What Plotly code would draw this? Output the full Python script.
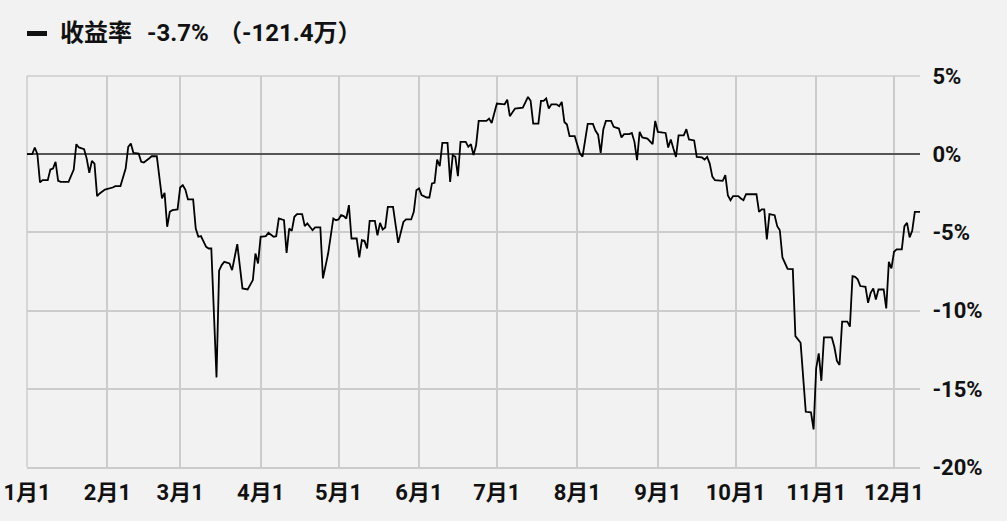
import pandas as pd
import plotly.graph_objects as go

# ---- data ----
start_date = "2023-01-01"
day_offsets = [
    0, 2, 3, 4, 5, 6, 8, 9, 10, 11, 12, 13, 16, 18, 19, 20, 22, 23, 24, 25,
    26, 27, 28, 30, 33, 34, 36, 38, 39, 40, 41, 43, 44, 45, 47, 48, 50, 51, 52, 53,
    54, 55, 56, 58, 59, 60, 61, 62, 64, 65, 66, 67, 69, 70, 71, 73, 74, 75, 76, 78,
    79, 81, 83, 85, 87, 88, 89, 90, 92, 93, 95, 96, 97, 99, 100, 101, 102, 103, 104, 106,
    107, 108, 110, 111, 113, 114, 116, 118, 119, 120, 121, 122, 123, 124, 125, 127, 128, 129, 130, 131,
    132, 134, 135, 136, 137, 138, 139, 141, 143, 145, 146, 148, 149, 150, 151, 152, 154, 155, 156, 157,
    158, 159, 160, 162, 163, 164, 165, 166, 167, 169, 170, 171, 172, 173, 174, 177, 178, 179, 180, 181,
    184, 185, 186, 188, 191, 192, 193, 194, 195, 197, 198, 199, 200, 201, 202, 204, 205, 206, 207, 208,
    209, 211, 212, 213, 214, 215, 216, 218, 219, 220, 221, 222, 223, 225, 226, 228, 229, 230, 232, 233,
    234, 235, 236, 237, 239, 241, 242, 243, 246, 247, 248, 249, 250, 251, 253, 254, 255, 257, 258, 260,
    261, 262, 263, 264, 265, 268, 269, 270, 271, 272, 274, 275, 276, 277, 281, 282, 283, 284, 285, 286,
    288, 289, 290, 291, 292, 293, 295, 296, 297, 298, 300, 302, 303, 304, 305, 306, 307, 310, 311, 312,
    313, 314, 316, 317, 318, 319, 320, 321, 323, 324, 325, 326, 327, 328, 330, 331, 332, 333, 334, 335,
    337, 338, 339, 340, 341, 342, 344,
]
return_pct = [
    0, 0, 0.43, 0, -1.8, -1.66, -1.66, -0.98, -0.92, -0.49, -1.7, -1.77, -1.77, -0.98, 0.64, 0.43, 0.32, -0.28, -1.19, -0.43,
    -0.6, -2.68, -2.51, -2.26, -2.13, -2.04, -2.04, -0.92, 0.47, 0.68, 0.08, 0.04, -0.49, -0.53, -0.28, -0.13, -0.13, -1.66, -2.83, -2.47,
    -4.64, -3.68, -3.58, -3.53, -2.13, -1.98, -2.26, -2.89, -2.89, -4.75, -5.28, -5.24, -5.92, -6.03, -6.03, -14.27, -7.45, -7.09, -6.88, -6.99,
    -7.41, -5.75, -8.58, -8.65, -8.05, -6.35, -6.99, -5.28, -5.24, -5.03, -5.28, -5.24, -4.11, -4.22, -6.31, -4.75, -4.9, -4.0, -3.83, -3.83,
    -4.6, -4.43, -4.86, -4.68, -4.68, -7.94, -6.35, -4.11, -4.22, -4.17, -3.9, -3.96, -4.11, -3.26, -5.39, -5.39, -6.6, -5.5, -5.54, -6.03,
    -4.26, -4.26, -5.18, -4.39, -4.81, -4.68, -3.37, -3.37, -5.67, -4.33, -4.17, -4.17, -3.69, -2.3, -2.19, -2.62, -2.77, -2.77, -1.87, -1.83,
    -0.34, -0.77, 0.72, 0.72, -1.77, -0.06, -0.17, -1.41, 0.79, 0.79, 0.47, 0.64, -0.06, 0.57, 2.13, 2.13, 2.28, 2.0, 2.6, 3.24,
    3.19, 3.49, 2.43, 2.92, 2.98, 3.34, 3.66, 3.41, 1.96, 1.96, 3.41, 3.41, 3.56, 2.92, 3.19, 3.19, 3.07, 3.34, 2.06, 1.9,
    1.15, 1.15, 0.6, 0.04, -0.15, 0.8, 1.94, 1.94, 1.5, 1.25, 0.08, 1.58, 2.13, 2.13, 1.75, 1.64, 1.07, 1.28, 1.28, 1.36,
    0.79, -0.38, 1.43, 1.07, 1.0, 0.64, 2.13, 1.43, 1.36, 0.43, 0.94, 0.36, -0.17, 1.21, 1.21, 1.6, 0.94, 0.88, -0.17, -0.21,
    -0.34, -0.17, -0.6, -1.43, -1.66, -1.7, -1.34, -2.64, -2.94, -2.68, -2.68, -2.83, -2.94, -2.56, -2.56, -3.69, -3.53, -3.53, -5.45, -3.83,
    -3.9, -4.6, -4.86, -6.6, -7.03, -7.33, -7.35, -11.63, -11.84, -12.06, -16.47, -16.51, -17.6, -13.7, -12.74, -14.49, -11.71, -11.71, -12.31, -13.21,
    -13.48, -10.71, -10.71, -11.03, -7.8, -7.84, -8.0, -8.43, -8.48, -9.5, -8.86, -8.58, -9.29, -8.65, -8.65, -9.86, -6.88, -7.3, -6.24, -6.09,
    -6.09, -4.6, -4.39, -5.32, -4.9, -3.69, -3.69,
]
month_ticks = ["2023-01-01", "2023-02-01", "2023-03-01", "2023-04-01", "2023-05-01", "2023-06-01",
               "2023-07-01", "2023-08-01", "2023-09-01", "2023-10-01", "2023-11-01", "2023-12-01"]
month_labels = ["1月1", "2月1", "3月1", "4月1", "5月1", "6月1",
                "7月1", "8月1", "9月1", "10月1", "11月1", "12月1"]
y_ticks = [-20, -15, -10, -5, 0, 5]
legend_name = "收益率"
legend_pct = "-3.7%"
legend_amount = "（-121.4万）"

assert len(day_offsets) == len(return_pct)
dates = pd.Timestamp(start_date) + pd.to_timedelta(day_offsets, unit="D")

FONT = "Roboto, 'Noto Sans CJK SC', sans-serif"
BG = "#f2f2f2"
GRID = "#cccccc"

fig = go.Figure()
fig.add_trace(go.Scatter(
    x=dates, y=return_pct, mode="lines",
    line=dict(color="#000000", width=1.8),
    name=legend_name, showlegend=False, hoverinfo="skip",
))

fig.update_layout(
    width=1007, height=521,
    margin=dict(l=27, r=87, t=76, b=54),
    paper_bgcolor=BG, plot_bgcolor=BG,
    font=dict(family=FONT, color="#111111"),
    xaxis=dict(
        type="date", automargin=False,
        range=[dates[0], dates[-1]],
        tickvals=month_ticks, ticktext=[f"<b>{t}</b>" for t in month_labels],
        tickfont=dict(size=22, family=FONT, color="#111111"),
        showgrid=True, gridcolor=GRID, gridwidth=1.5,
        ticks="outside", ticklen=5, tickcolor="rgba(0,0,0,0)",
        showline=True, linecolor=GRID, linewidth=1.5, zeroline=False,
    ),
    yaxis=dict(
        side="right", range=[-20, 5], automargin=False,
        tickvals=y_ticks, ticktext=[f"<b>{v}%</b>" for v in y_ticks],
        tickfont=dict(size=22, family=FONT, color="#111111"),
        showgrid=True, gridcolor=GRID, gridwidth=1.5,
        zeroline=True, zerolinecolor="#555555", zerolinewidth=2,
        ticks="outside", ticklen=7, tickcolor="rgba(0,0,0,0)",
        showline=False,
    ),
)

# edge grid lines (top 5% line and Jan-1 line) that plotly omits at range edges
fig.add_shape(type="line", xref="paper", yref="paper", x0=0, x1=1, y0=1, y1=1,
              line=dict(color=GRID, width=1.5), layer="below")
fig.add_shape(type="line", xref="paper", yref="paper", x0=0, x1=0, y0=0, y1=1,
              line=dict(color=GRID, width=1.5), layer="below")

# legend-like header
plot_w = 1007 - 27 - 87
plot_h = 521 - 76 - 54
def px_x(p):
    return (p - 27) / plot_w
def px_y(p):
    return 1 + (76 - p) / plot_h

fig.add_shape(type="rect", xref="paper", yref="paper",
              x0=px_x(27), x1=px_x(47), y0=px_y(36), y1=px_y(31),
              fillcolor="#111111", line=dict(width=0))
for txt, xpos in [(legend_name, 58), (legend_pct, 145), (legend_amount, 216)]:
    fig.add_annotation(xref="paper", yref="paper", x=px_x(xpos), y=px_y(33),
                       xanchor="left", yanchor="middle", showarrow=False,
                       text=f"<b>{txt}</b>", font=dict(size=24, family=FONT, color="#111111"))

fig.write_html("out.html")
